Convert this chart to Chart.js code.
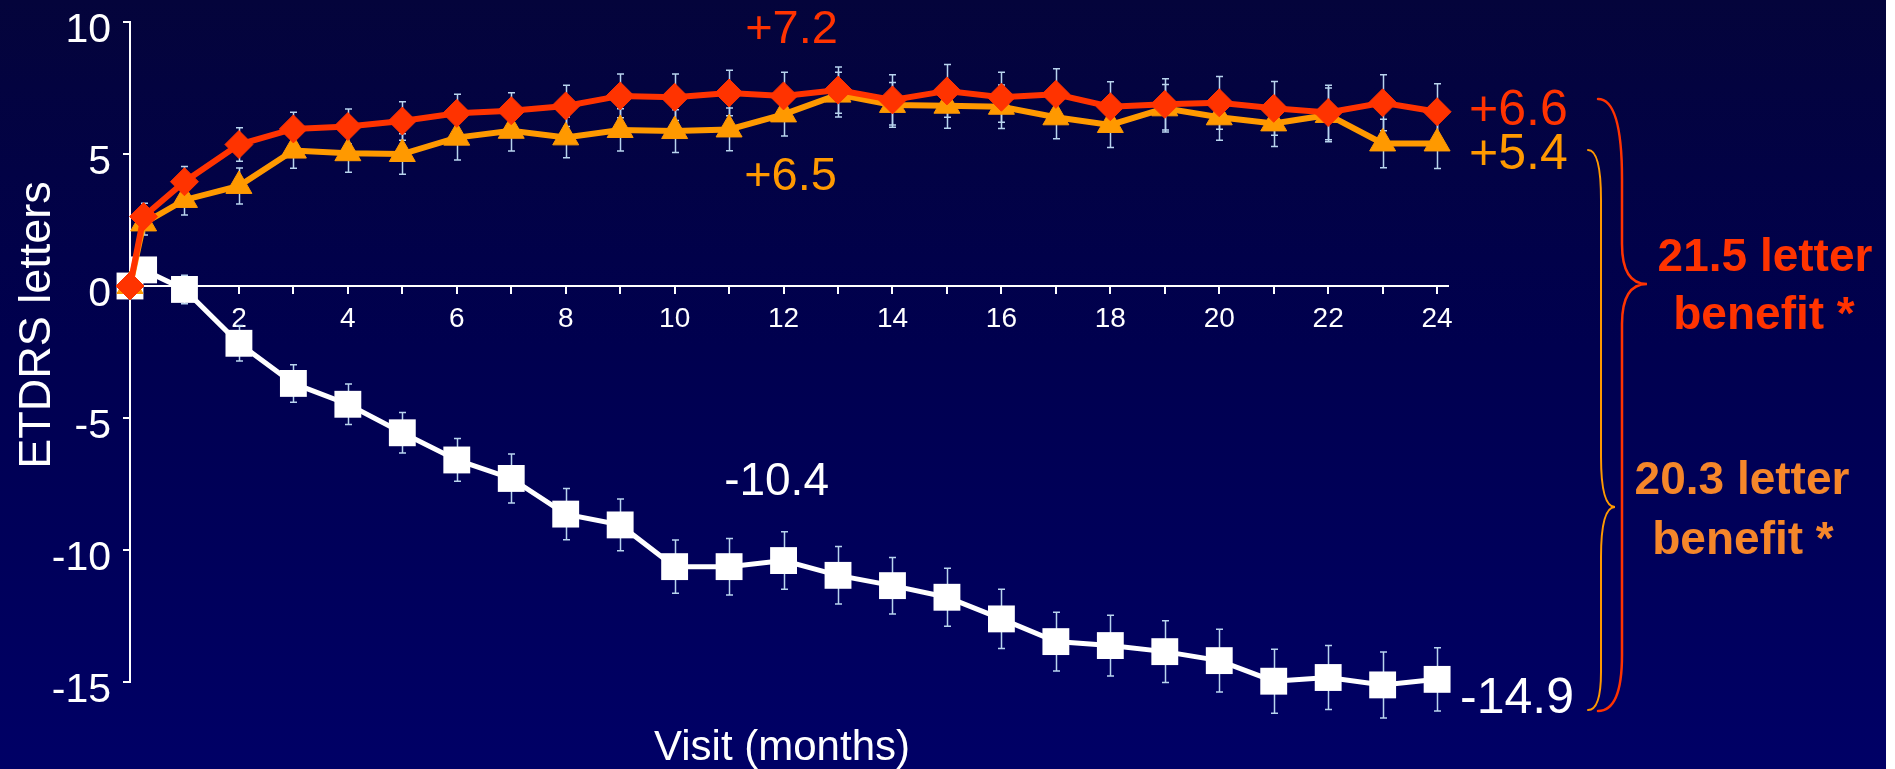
<!DOCTYPE html>
<html>
<head>
<meta charset="utf-8">
<script src="https://cdn.jsdelivr.net/npm/chart.js@4.4.1/dist/chart.umd.min.js"></script>
<style>
  html, body { margin: 0; padding: 0; background: #ffffff; }
  #wrap {
    position: absolute; left: 0; top: 0; width: 1886px; height: 769px;
    background: linear-gradient(180deg, #04043b 0%, #00004f 45%, #000066 100%);
  }
  canvas { display: block; }
</style>
</head>
<body>
<div id="wrap"><canvas id="c" width="1886" height="769"></canvas></div>
<script>
// Visit times (months); 0.25 is the week-1 visit
const months = [0, 0.25, 1, 2, 3, 4, 5, 6, 7, 8, 9, 10, 11, 12,
                13, 14, 15, 16, 17, 18, 19, 20, 21, 22, 23, 24];

// Mean change in ETDRS letters from baseline
const seriesHigh = [0, 2.63, 3.95, 5.36, 5.95, 6.04, 6.25, 6.54, 6.64, 6.82, 7.20, 7.15, 7.31, 7.2,
                    7.42, 7.05, 7.39, 7.15, 7.26, 6.79, 6.88, 6.94, 6.73, 6.57, 6.94, 6.6];
const seriesLow  = [0, 2.37, 3.26, 3.79, 5.13, 5.03, 5.00, 5.62, 5.88, 5.63, 5.91, 5.87, 5.93, 6.5,
                    7.25, 6.86, 6.83, 6.79, 6.39, 6.10, 6.73, 6.39, 6.16, 6.48, 5.4, 5.4];
const seriesSham = [0, 0.61, -0.13, -2.17, -3.69, -4.48, -5.56, -6.59, -7.29, -8.64, -9.05, -10.63, -10.63, -10.4,
                    -10.96, -11.35, -11.79, -12.61, -13.47, -13.62, -13.85, -14.19, -14.97, -14.83, -15.11, -14.9];

// Standard error half-widths
const errHigh = [0, 0.50, 0.58, 0.63, 0.63, 0.66, 0.73, 0.72, 0.68, 0.78, 0.83, 0.88, 0.86, 0.90,
                 0.88, 0.95, 1.00, 0.95, 0.97, 0.95, 0.97, 1.00, 1.02, 1.03, 1.06, 1.06];
const errLow  = [0, 0.44, 0.57, 0.68, 0.67, 0.72, 0.77, 0.85, 0.77, 0.77, 0.80, 0.81, 0.81, 0.82,
                 0.85, 0.85, 0.85, 0.82, 0.81, 0.85, 0.90, 0.87, 0.88, 1.02, 0.92, 0.95];
const errSham = [0, 0.30, 0.54, 0.67, 0.71, 0.77, 0.77, 0.81, 0.93, 0.97, 0.98, 1.01, 1.07, 1.09,
                 1.09, 1.07, 1.10, 1.12, 1.11, 1.15, 1.17, 1.19, 1.21, 1.21, 1.25, 1.20];

// Axis ticks
const yTicks = [-15, -10, -5, 0, 5, 10];
const xLabelStep = 2;

const FONT = '"Liberation Sans", Arial, Helvetica, sans-serif';
const RED = '#ff3300';
const ORANGE = '#ff9900';
const ORANGE_TEXT = '#f5862a';
const ERR = '#b8d4ee';

const toPoints = vals => months.map((m, i) => ({ x: m, y: vals[i] }));

// Value callouts attached to points (series index, month, offsets in px)
const callouts = [
  { s: 0, month: 12, dx: 8,  dy: -53, align: 'center', size: 47, color: RED },
  { s: 1, month: 12, dx: 7,  dy: 76,  align: 'center', size: 47, color: ORANGE },
  { s: 2, month: 12, dx: -7, dy: -66, align: 'center', size: 46, color: '#ffffff' },
  { s: 0, month: 24, dx: 32, dy: 13,  align: 'left',   size: 50, color: RED },
  { s: 1, month: 24, dx: 32, dy: 26,  align: 'left',   size: 50, color: ORANGE },
  { s: 2, month: 24, dx: 23, dy: 34,  align: 'left',   size: 50, color: '#ffffff' }
];

const fmt = v => (v > 0 ? '+' : '') + v.toFixed(1);

const errorBars = {
  id: 'errorBars',
  beforeDatasetsDraw(chart) {
    const { ctx, scales: { x, y } } = chart;
    ctx.save();
    ctx.strokeStyle = ERR;
    ctx.lineWidth = 1.5;
    chart.data.datasets.forEach(ds => {
      ds.data.forEach((p, i) => {
        const e = ds.errors[i];
        if (!e) return;
        const px = Math.round(x.getPixelForValue(p.x)) + 0.5;
        const top = y.getPixelForValue(p.y + e);
        const bot = y.getPixelForValue(p.y - e);
        ctx.beginPath();
        ctx.moveTo(px, top); ctx.lineTo(px, bot);
        ctx.moveTo(px - 3.5, top); ctx.lineTo(px + 3.5, top);
        ctx.moveTo(px - 3.5, bot); ctx.lineTo(px + 3.5, bot);
        ctx.stroke();
      });
    });
    ctx.restore();
  }
};

function drawBrace(ctx, b) {
  ctx.beginPath();
  ctx.moveTo(b.x0, b.y0);
  ctx.quadraticCurveTo(b.xv, b.y0, b.xv, b.y0 + b.rTop);
  ctx.lineTo(b.xv, b.yt - b.rt);
  ctx.quadraticCurveTo(b.xv, b.yt, b.xt, b.yt);
  ctx.quadraticCurveTo(b.xv, b.yt, b.xv, b.yt + b.rt);
  ctx.lineTo(b.xv, b.y1 - b.rBot);
  ctx.quadraticCurveTo(b.xv, b.y1, b.x0, b.y1);
  ctx.stroke();
}

const annotations = {
  id: 'annotations',
  afterDraw(chart) {
    const { ctx, scales: { x, y }, chartArea } = chart;
    const series = [seriesHigh, seriesLow, seriesSham];
    ctx.save();

    // Axis titles
    ctx.fillStyle = '#ffffff';
    ctx.textBaseline = 'alphabetic';
    ctx.textAlign = 'center';
    ctx.font = '42px ' + FONT;
    ctx.fillText('Visit (months)', (chartArea.left + chartArea.right) / 2 - 7, 760);
    ctx.save();
    ctx.translate(50, 325);
    ctx.rotate(-Math.PI / 2);
    ctx.font = '45px ' + FONT;
    ctx.fillText('ETDRS letters', 0, 0);
    ctx.restore();

    // Value callouts
    callouts.forEach(c => {
      const i = months.indexOf(c.month);
      const v = series[c.s][i];
      ctx.font = c.size + 'px ' + FONT;
      ctx.fillStyle = c.color;
      ctx.textAlign = c.align;
      ctx.fillText(fmt(v), x.getPixelForValue(c.month) + c.dx, y.getPixelForValue(v) + c.dy);
    });

    // Benefit braces
    ctx.lineCap = 'round';
    ctx.strokeStyle = RED;
    ctx.lineWidth = 2.5;
    drawBrace(ctx, { x0: 1598, xv: 1622, xt: 1647, y0: 99, yt: 284, y1: 711, rTop: 80, rt: 40, rBot: 56 });
    ctx.strokeStyle = ORANGE;
    ctx.lineWidth = 2;
    drawBrace(ctx, { x0: 1588, xv: 1601, xt: 1615, y0: 150, yt: 507, y1: 710, rTop: 50, rt: 50, rBot: 38 });

    // Benefit text
    ctx.textAlign = 'center';
    ctx.font = 'bold 46px ' + FONT;
    ctx.fillStyle = RED;
    ctx.fillText('21.5 letter', 1765, 271);
    ctx.fillText('benefit *', 1764, 329);
    ctx.fillStyle = ORANGE_TEXT;
    ctx.fillText('20.3 letter', 1742, 494);
    ctx.fillText('benefit *', 1743, 554);

    ctx.restore();
  }
};

new Chart(document.getElementById('c'), {
  type: 'line',
  data: {
    datasets: [
      {
        label: '0.5 mg', data: toPoints(seriesHigh), errors: errHigh,
        borderColor: RED, backgroundColor: RED, borderWidth: 6,
        pointStyle: 'rectRot', pointRadius: 14, pointBorderWidth: 1,
        pointBackgroundColor: RED, pointBorderColor: RED, clip: false
      },
      {
        label: '0.3 mg', data: toPoints(seriesLow), errors: errLow,
        borderColor: ORANGE, backgroundColor: ORANGE, borderWidth: 6,
        pointStyle: 'triangle', pointRadius: 15, pointBorderWidth: 1,
        pointBackgroundColor: ORANGE, pointBorderColor: ORANGE, clip: false
      },
      {
        label: 'Sham', data: toPoints(seriesSham), errors: errSham,
        borderColor: '#ffffff', backgroundColor: '#ffffff', borderWidth: 5,
        pointStyle: 'rect', pointRadius: 19, pointBorderWidth: 0,
        pointBackgroundColor: '#ffffff', pointBorderColor: '#ffffff', clip: false
      }
    ]
  },
  options: {
    responsive: false,
    animation: false,
    devicePixelRatio: 1,
    layout: { padding: { left: 0, right: 438, top: 22, bottom: 87 } },
    plugins: { legend: { display: false }, tooltip: { enabled: false } },
    elements: { line: { tension: 0 } },
    scales: {
      x: {
        type: 'linear',
        position: { y: 0 },
        min: 0, max: 24.2,
        ticks: {
          stepSize: 1, includeBounds: false, autoSkip: false, maxRotation: 0,
          color: '#ffffff', font: { family: FONT, size: 28 }, padding: 9,
          callback: v => (v === 0 ? null : (v % xLabelStep === 0 ? String(v) : ''))
        },
        grid: { drawOnChartArea: false, drawTicks: true, tickLength: 7, color: '#ffffff', lineWidth: 2 },
        border: { color: '#ffffff', width: 2 }
      },
      y: {
        type: 'linear',
        min: yTicks[0], max: yTicks[yTicks.length - 1],
        afterBuildTicks: axis => { axis.ticks = yTicks.map(v => ({ value: v })); },
        afterFit: axis => { axis.width = 130; },
        ticks: {
          color: '#ffffff', font: { family: FONT, size: 41, lineHeight: 0.4 },
          padding: 12, labelOffset: 9
        },
        grid: { drawOnChartArea: false, drawTicks: true, tickLength: 7, color: '#ffffff', lineWidth: 2 },
        border: { color: '#ffffff', width: 2 }
      }
    }
  },
  plugins: [errorBars, annotations]
});
</script>
</body>
</html>
